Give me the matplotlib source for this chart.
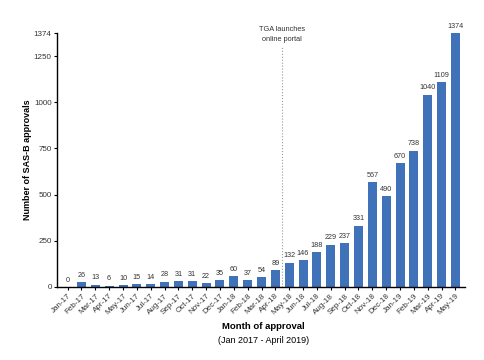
import numpy as np
from matplotlib import pyplot as plt

plt.rcParams['font.family'] = ['Liberation Sans', 'DejaVu Sans']

months = ['Jan-17', 'Feb-17', 'Mar-17', 'Apr-17', 'May-17', 'Jun-17', 'Jul-17',
          'Aug-17', 'Sep-17', 'Oct-17', 'Nov-17', 'Dec-17', 'Jan-18', 'Feb-18',
          'Mar-18', 'Apr-18', 'May-18', 'Jun-18', 'Jul-18', 'Aug-18', 'Sep-18',
          'Oct-18', 'Nov-18', 'Dec-18', 'Jan-19', 'Feb-19', 'Mar-19', 'Apr-19',
          'May-19']
approvals = [0, 26, 13, 6, 10, 15, 14, 28, 31, 31, 22, 35, 60, 37, 54, 89,
             132, 146, 188, 229, 237, 331, 567, 490, 670, 738, 1040, 1109, 1374]
y_ticks = [0, 250, 500, 750, 1000, 1250, 1374]

fig = plt.figure(figsize=(4.85, 3.6), dpi=100)
ax = fig.add_axes([0.118, 0.203, 0.841, 0.705])

x = np.arange(len(months))
bars = ax.bar(x, approvals, width=0.65, color='#3f72b8')
for xi, v in zip(x, approvals):
    ax.text(xi, v + 18, str(v), ha='center', va='bottom', fontsize=5.2, color='#333333')

ax.set_xlim(-0.75, len(months) - 0.3)
ax.set_ylim(0, 1374)
ax.set_yticks(y_ticks)
ax.set_yticklabels([str(t) for t in y_ticks], fontsize=5.8, color='#333333')
ax.set_xticks(x)
ax.set_xticklabels(months, rotation=45, ha='right', rotation_mode='anchor',
                   fontsize=5.8, color='#333333')
ax.tick_params(axis='both', length=2.5, width=0.8, pad=1.5)

for s in ['top', 'right']:
    ax.spines[s].set_visible(False)
for s in ['left', 'bottom']:
    ax.spines[s].set_linewidth(1.0)

ax.axvline(15.5, ymin=0, ymax=1298 / 1374, color='#999999', linestyle=':', linewidth=0.8)
ax.text(15.5, 1322, 'TGA launches\nonline portal', ha='center', va='bottom',
        fontsize=5.3, color='#333333', linespacing=1.5)

ax.set_ylabel('Number of SAS-B approvals', fontsize=6.5, fontweight='bold', labelpad=1)
fig.text(0.543, 0.085, 'Month of approval', ha='center', fontsize=6.8, fontweight='bold')
fig.text(0.543, 0.048, '(Jan 2017 - April 2019)', ha='center', fontsize=6.5)

fig.savefig('out.png', dpi=100)
